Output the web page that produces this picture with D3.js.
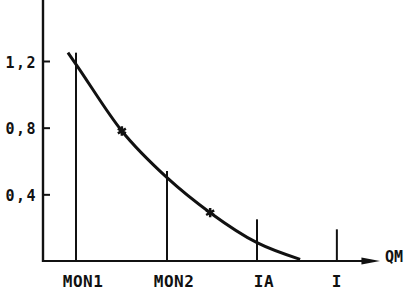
<!DOCTYPE html>
<head>
	<script src="https://d3js.org/d3.v7.min.js"></script>
	<style>
		body { margin: 0; background: #fff; }
		.lbl { font-family: "DejaVu Sans Mono"; font-weight: bold; fill: #111; }
	</style>
</head>
<body>
	<script>
		// values (x in arbitrary QM units, y in the axis units)
		var categories = ["MON1", "MON2", "IA", "I"];
		var catX = [9.8, 36.8, 63.5, 87.2];
		var catY = [1.25, 0.54, 0.25, 0.19];

		var curveX = [7.4, 9.8, 23.4, 36.8, 49.6, 63.5, 76.3];
		var curveY = [1.25, 1.18, 0.78, 0.50, 0.29, 0.11, 0.01];

		var markX = [23.4, 49.6];
		var markY = [0.78, 0.29];

		var yTicks = [0.4, 0.8, 1.2];
		var axisName = "QM";

		var width = 409;
		var height = 292;

		var x = d3.scaleLinear().domain([0, 100]).range([43, 380]);
		var y = d3.scaleLinear().domain([0, 1.566]).range([261, 0]);

		var svg = d3.select("body")
			.append("svg")
			.attr("width", width)
			.attr("height", height);

		// y axis, ticks pointing inward
		var yAxis = d3.axisLeft(y)
			.tickValues(yTicks)
			.tickSizeInner(-7)
			.tickSizeOuter(0)
			.tickPadding(6)
			.tickFormat(function(d) { return d3.format(".1f")(d).replace(".", ","); });

		var gy = svg.append("g")
			.attr("transform", "translate(" + [x(0), 0] + ")")
			.call(yAxis);
		gy.select(".domain").remove();
		gy.selectAll(".tick line").attr("stroke", "#111").attr("stroke-width", 2);
		gy.selectAll(".tick text")
			.attr("class", "lbl")
			.attr("fill", "#111")
			.style("font-size", "15px")
			.style("letter-spacing", "1.5px")
			.attr("dy", "0.4em");

		svg.append("line")
			.attr("x1", x(0)).attr("x2", x(0))
			.attr("y1", 0).attr("y2", y(0) + 1)
			.attr("stroke", "#111").attr("stroke-width", 2.4);

		// x axis with arrow
		svg.append("line")
			.attr("x1", x(0) - 1).attr("x2", x(95))
			.attr("y1", y(0)).attr("y2", y(0))
			.attr("stroke", "#111").attr("stroke-width", 2);
		svg.append("path")
			.attr("d", "M" + x(94.5) + "," + (y(0) - 3.5) + "L" + x(100) + "," + y(0) + "L" + x(94.5) + "," + (y(0) + 3.5) + "Z")
			.attr("fill", "#111");
		svg.append("text")
			.attr("class", "lbl")
			.attr("x", x(100) + 5)
			.attr("y", y(0) + 1)
			.style("font-size", "15px")
			.text(axisName);

		// vertical lines
		svg.selectAll(".bar")
			.data(categories)
			.enter()
			.append("line")
			.attr("x1", function(d, i) { return x(catX[i]); })
			.attr("x2", function(d, i) { return x(catX[i]); })
			.attr("y1", function(d, i) { return y(catY[i]); })
			.attr("y2", y(0))
			.attr("stroke", "#111")
			.attr("stroke-width", 2);

		svg.selectAll(".cat")
			.data(categories)
			.enter()
			.append("text")
			.attr("class", "lbl")
			.attr("x", function(d, i) { return x(catX[i]) + (d.length > 1 ? 7 : 0); })
			.attr("y", 287)
			.attr("text-anchor", "middle")
			.style("font-size", "16px")
			.style("letter-spacing", "0.5px")
			.text(function(d) { return d; });

		// curve
		var line = d3.line()
			.x(function(d, i) { return x(curveX[i]); })
			.y(function(d) { return y(d); })
			.curve(d3.curveMonotoneX);

		svg.append("path")
			.attr("d", line(curveY))
			.attr("fill", "none")
			.attr("stroke", "#111")
			.attr("stroke-width", 3);

		// markers
		svg.selectAll(".mark")
			.data(markY)
			.enter()
			.append("path")
			.attr("transform", function(d, i) { return "translate(" + [x(markX[i]), y(d)] + ")"; })
			.attr("d", d3.symbol().type(d3.symbolAsterisk).size(60))
			.attr("stroke", "#111")
			.attr("stroke-width", 2.5);
	</script>
</body>
</html>
